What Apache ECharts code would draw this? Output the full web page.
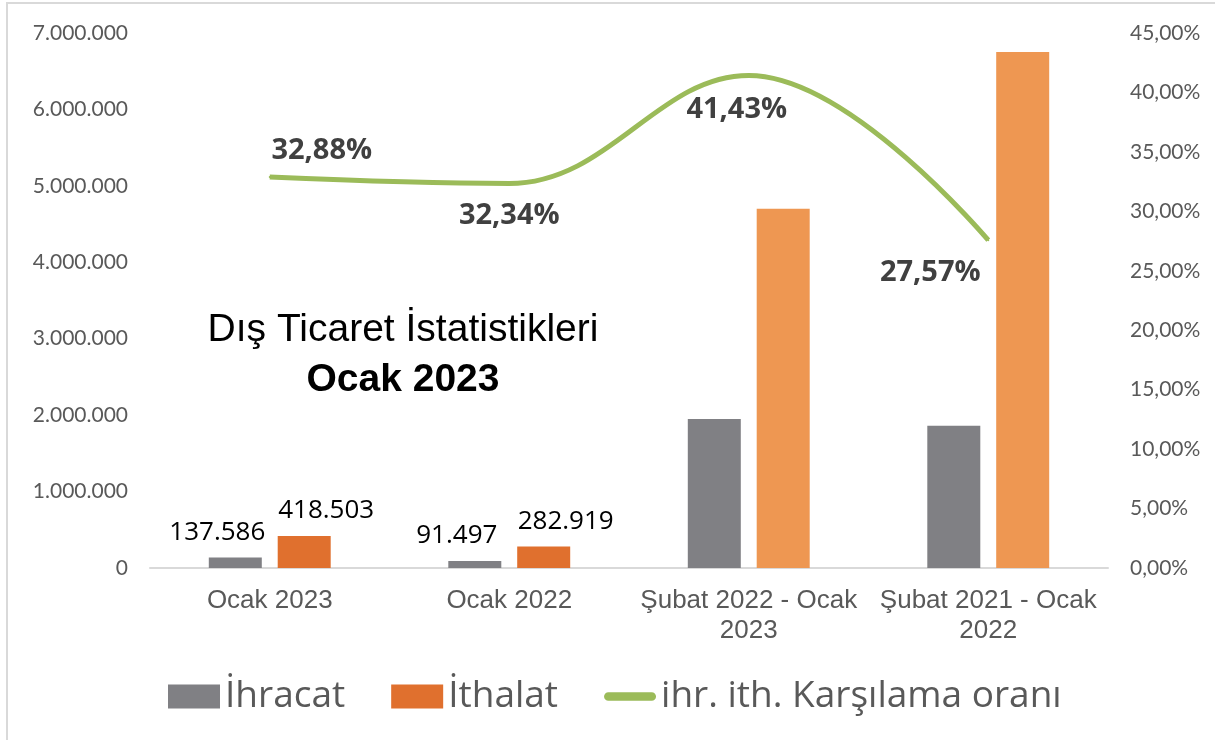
<!DOCTYPE html>
<html lang="tr">
<head>
    <meta charset="UTF-8">
    <title>Dış Ticaret İstatistikleri</title>
    <script src="https://cdn.jsdelivr.net/npm/echarts@6/dist/echarts.min.js"></script>
    <style>
        html, body { margin: 0; padding: 0; background: #fff; }
    </style>
</head>
<body>
<div id="echarts" style="width: 1215px;height:740px"></div>
<script>
    // veriler
    var categories = ['Ocak 2023', 'Ocak 2022', 'Şubat 2022 - Ocak\n2023', 'Şubat 2021 - Ocak\n2022'];
    var ihracat = [137586, 91497, 1948000, 1861000];
    var ithalat = [418503, 282919, 4702000, 6751000];
    var oran = [32.88, 32.34, 41.43, 27.57];
    // orana ait etiket kaydırmaları
    var oranOffsets = [[52, -26], [0, 32], [-12, 34], [-58, 33]];

    var chartDom = document.getElementById('echarts');
    var myChart = echarts.init(chartDom);
    var option;

    function nokta(v) {
        return String(Math.round(v)).replace(/\B(?=(\d{3})+(?!\d))/g, '.');
    }

    var ithalatColors = ['#E0702E', '#E0702E', '#EE9752', '#EE9752'];

    option = {
        backgroundColor: '#fff',
        animation: false,
        grid: { left: 150, right: 107, top: 33, bottom: 172 },
        graphic: [
            {
                type: 'rect',
                shape: { x: 7, y: 3, width: 1300, height: 800 },
                style: { fill: 'none', stroke: '#d9d9d9', lineWidth: 2 },
                silent: true
            },
            {
                type: 'text',
                x: 403, y: 330,
                style: {
                    text: 'Dış Ticaret İstatistikleri',
                    font: '39px "Liberation Sans", Arial',
                    fill: '#000', align: 'center', verticalAlign: 'middle'
                }
            },
            {
                type: 'text',
                x: 403, y: 380,
                style: {
                    text: 'Ocak 2023',
                    font: 'bold 39px "Liberation Sans", Arial',
                    fill: '#000', align: 'center', verticalAlign: 'middle'
                }
            }
        ],
        legend: {
            bottom: 20,
            left: 163,
            itemWidth: 52,
            itemHeight: 24,
            itemGap: 46,
            textStyle: { fontFamily: 'Open Sans', fontSize: 37, color: '#595959' },
            data: [
                { name: 'İhracat', icon: 'rect' },
                { name: 'İthalat', icon: 'rect' },
                { name: 'ihr. ith. Karşılama oranı', icon: 'path://M5,0H55A5,5 0 0 1 55,10H5A5,5 0 0 1 5,0Z' }
            ]
        },
        xAxis: {
            type: 'category',
            data: categories,
            axisLine: { lineStyle: { color: '#d9d9d9', width: 2 } },
            axisTick: { show: false },
            axisLabel: {
                fontFamily: '"Liberation Sans", Arial',
                fontSize: 26,
                color: '#595959',
                lineHeight: 30,
                margin: 18,
                interval: 0
            }
        },
        yAxis: [
            {
                type: 'value',
                min: 0, max: 7000000, interval: 1000000,
                splitLine: { show: false },
                axisLabel: {
                    fontFamily: 'Lato', fontSize: 21, color: '#595959', margin: 22,
                    formatter: function (v) { return nokta(v); }
                }
            },
            {
                type: 'value',
                min: 0, max: 45, interval: 5,
                splitLine: { show: false },
                axisLabel: {
                    fontFamily: 'Lato', fontSize: 21, color: '#595959', margin: 22,
                    formatter: function (v) { return v.toFixed(2).replace('.', ',') + '%'; }
                }
            }
        ],
        series: [
            {
                name: 'İhracat',
                type: 'bar',
                barWidth: 53,
                barGap: '30%',
                itemStyle: { color: '#808084' },
                label: {
                    show: true, position: 'top', distance: 12, offset: [-18, 0],
                    fontFamily: 'Open Sans', fontSize: 26, color: '#000',
                    formatter: function (p) { return p.dataIndex < 2 ? nokta(p.value) : ''; }
                },
                data: ihracat
            },
            {
                name: 'İthalat',
                type: 'bar',
                barWidth: 53,
                itemStyle: { color: '#E0702E' },
                label: {
                    show: true, position: 'top', distance: 12, offset: [22, 0],
                    fontFamily: 'Open Sans', fontSize: 26, color: '#000',
                    formatter: function (p) { return p.dataIndex < 2 ? nokta(p.value) : ''; }
                },
                data: ithalat.map(function (v, i) {
                    return { value: v, itemStyle: { color: ithalatColors[i] } };
                })
            },
            {
                name: 'ihr. ith. Karşılama oranı',
                type: 'line',
                yAxisIndex: 1,
                smooth: 0.4,
                symbol: 'circle',
                symbolSize: 2,
                itemStyle: { color: '#9BBB59' },
                lineStyle: { color: '#9BBB59', width: 5 },
                data: oran.map(function (v, i) {
                    return {
                        value: v,
                        label: {
                            show: true, position: 'inside', offset: oranOffsets[i],
                            fontFamily: 'Open Sans', fontWeight: 'bold', fontSize: 29, color: '#404040',
                            formatter: function (p) { return p.value.toFixed(2).replace('.', ',') + '%'; }
                        }
                    };
                })
            }
        ]
    };

    option && myChart.setOption(option);
</script>
</body>
</html>
